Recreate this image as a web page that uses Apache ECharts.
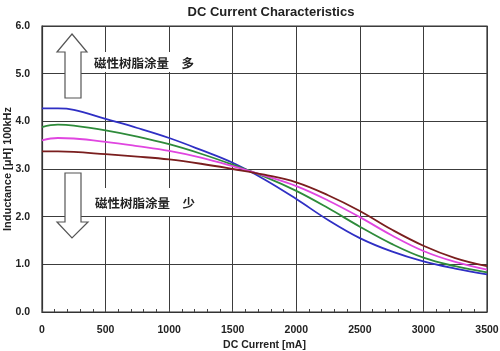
<!DOCTYPE html>
<html>
<head>
<meta charset="utf-8">
<script src="https://cdn.jsdelivr.net/npm/echarts@6/dist/echarts.min.js"></script>
<style>
  html, body { margin: 0; padding: 0; background: #fff; }
  #chart { width: 500px; height: 351px; }
</style>
</head>
<body>
<div id="chart"></div>
<script>
// DC current [mA]
let current = [0, 125, 250, 500, 750, 1000, 1250, 1500, 1750, 2000, 2250, 2500, 2750, 3000, 3250, 3500];

// inductance [uH], one array per resin amount
let blueL    = [4.27, 4.27, 4.24, 4.05, 3.86, 3.65, 3.40, 3.13, 2.78, 2.37, 1.93, 1.55, 1.27, 1.06, 0.91, 0.79];
let greenL   = [3.88, 3.93, 3.91, 3.81, 3.68, 3.52, 3.32, 3.09, 2.84, 2.54, 2.18, 1.79, 1.43, 1.14, 0.96, 0.83];
let magentaL = [3.60, 3.65, 3.64, 3.57, 3.48, 3.38, 3.24, 3.06, 2.86, 2.64, 2.34, 1.99, 1.61, 1.28, 1.05, 0.89];
let brownL   = [3.37, 3.37, 3.36, 3.31, 3.26, 3.20, 3.11, 3.00, 2.88, 2.72, 2.45, 2.12, 1.73, 1.39, 1.13, 0.96];

let labelMore = "磁性树脂涂量　多";
let labelLess = "磁性树脂涂量　少";

function pairs(ys) {
  return current.map((x, i) => [x, ys[i]]);
}

function curve(color, ys) {
  return {
    type: "line",
    data: pairs(ys),
    smooth: 0.4,
    showSymbol: false,
    lineStyle: { color: color, width: 1.8 },
    z: 5,
  };
}

let latin = "'Liberation Sans', Arial, sans-serif";
let cjkFont = "'Noto Sans CJK SC', sans-serif";

let myChart = echarts.init(document.getElementById("chart"));
myChart.setOption({
  animation: false,
  backgroundColor: "#fff",
  title: {
    text: "DC Current Characteristics",
    left: 266,
    top: 1,
    textAlign: "center",
    textStyle: { fontFamily: latin, fontWeight: "bold", fontSize: 13, color: "#222" },
  },
  grid: {
    left: 42,
    right: 13,
    top: 26,
    bottom: 39,
    containLabel: false,
    outerBoundsMode: "none",
    show: true,
    borderColor: "#333",
    borderWidth: 1.2,
  },
  xAxis: {
    type: "value",
    min: 0,
    max: 3500,
    interval: 500,
    name: "DC Current [mA]",
    nameLocation: "middle",
    nameGap: 28,
    nameMoveOverlap: false,
    nameTextStyle: { fontFamily: latin, fontWeight: "bold", fontSize: 10.5, color: "#222" },
    axisLine: { lineStyle: { color: "#333", width: 1.2 } },
    axisTick: { show: true, inside: true, length: 3, lineStyle: { color: "#444" } },
    minorTick: { show: true, splitNumber: 5, length: 3, lineStyle: { color: "#444" } },
    axisLabel: {
      margin: 13,
      formatter: (v) => String(v),
      fontFamily: latin,
      fontWeight: "bold",
      fontSize: 10.5,
      color: "#222",
    },
    splitLine: { show: true, lineStyle: { color: "#3c3c3c", width: 1 } },
  },
  yAxis: {
    type: "value",
    min: 0,
    max: 6,
    interval: 1,
    name: "Inductance [μH] 100kHz",
    nameLocation: "middle",
    nameGap: 29,
    nameMoveOverlap: false,
    nameTextStyle: { fontFamily: latin, fontWeight: "bold", fontSize: 11, color: "#222" },
    axisLine: { lineStyle: { color: "#333", width: 1.2 } },
    axisTick: { show: false },
    axisLabel: {
      margin: 12,
      formatter: (v) => v.toFixed(1),
      fontFamily: latin,
      fontWeight: "bold",
      fontSize: 10.5,
      color: "#222",
    },
    splitLine: { show: true, lineStyle: { color: "#3c3c3c", width: 1 } },
  },
  series: [
    curve("#2f2fc4", blueL),
    curve("#2e8b3a", greenL),
    curve("#e046e0", magentaL),
    curve("#7a1e1e", brownL),
  ],
  graphic: [
    // white boxes behind the annotation text
    { type: "rect", shape: { x: 89, y: 52, width: 112, height: 20 }, style: { fill: "#fff" }, z: 3 },
    { type: "rect", shape: { x: 89, y: 188, width: 112, height: 28 }, style: { fill: "#fff" }, z: 3 },
    {
      type: "text",
      x: 94, y: 63, z: 4,
      style: { text: labelMore, font: "bold 12.5px " + cjkFont, fill: "#222", verticalAlign: "middle" },
    },
    {
      type: "text",
      x: 95, y: 203, z: 4,
      style: { text: labelLess, font: "bold 12.5px " + cjkFont, fill: "#222", verticalAlign: "middle" },
    },
    // up arrow
    {
      type: "polygon", z: 4,
      shape: { points: [[72, 34], [87, 52], [81, 52], [81, 98], [65, 98], [65, 52], [57, 52]] },
      style: { fill: "#fff", stroke: "#555", lineWidth: 1.2 },
    },
    // down arrow
    {
      type: "polygon", z: 4,
      shape: { points: [[65, 173], [81, 173], [81, 222], [88, 222], [72, 238], [57, 222], [65, 222]] },
      style: { fill: "#fff", stroke: "#555", lineWidth: 1.2 },
    },
  ],
});
</script>
</body>
</html>
